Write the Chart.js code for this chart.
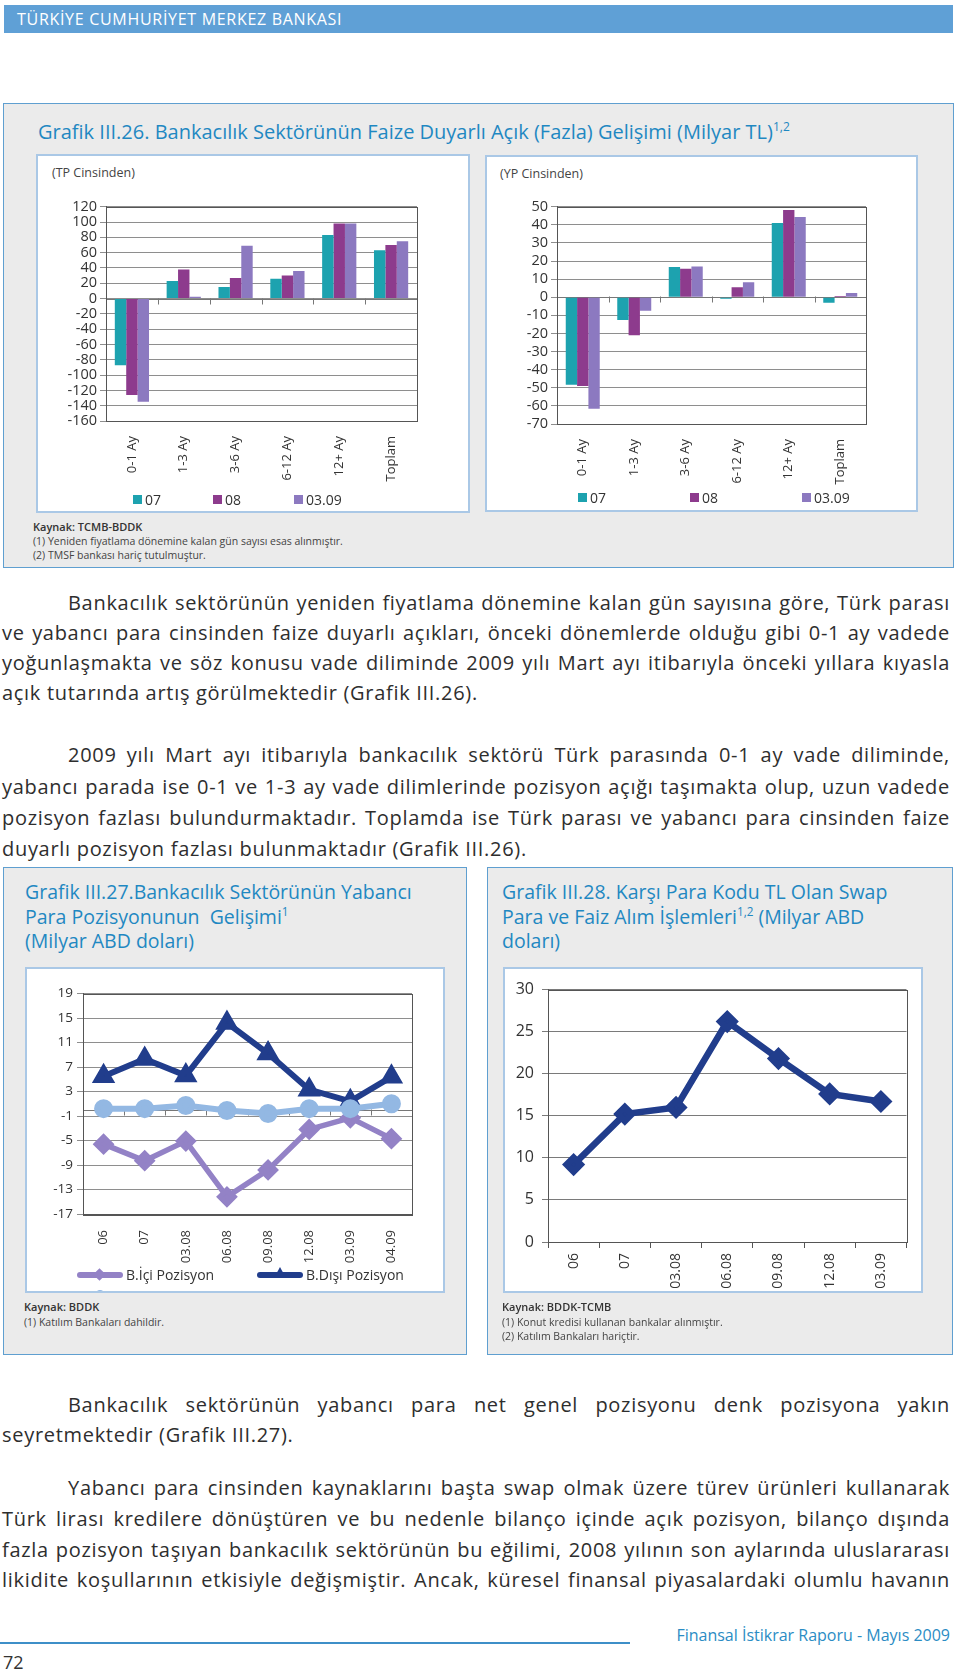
<!DOCTYPE html>
<html lang="tr">
<head>
<meta charset="utf-8">
<title>Finansal İstikrar Raporu - Grafik III.26-28</title>
<script src="https://cdn.jsdelivr.net/npm/chart.js@4.4.1/dist/chart.umd.min.js"></script>
<style>
  html, body { margin: 0; padding: 0; background: #fff; }
  body { width: 960px; height: 1670px; position: relative; overflow: hidden; font-family: "Open Sans", Lato, sans-serif; color: #2e2e2e; }
  .abs { position: absolute; }
  .topbar { left: 4px; top: 5px; width: 949px; height: 28px; background: #5fa0d6; }
  .topbar span { position: absolute; left: 13px; top: 3px; color: #fff; font-size: 16px; letter-spacing: 0.7px; }
  .grayBox { background: #ebebeb; border: 1.5px solid #5f9fd0; box-sizing: border-box; }
  .whiteBox { background: #fff; border: 2.5px solid #aac8e6; box-sizing: border-box; overflow: hidden; }
  .ctitle { color: #1f88c2; font-size: 19.5px; white-space: nowrap; }
  .ctitle sup { font-size: 0.6em; vertical-align: 0.7em; line-height: 0; }
  .sub { font-size: 12.5px; color: #444; }
  .note { font-size: 10.5px; color: #444; white-space: nowrap; line-height: 14px; }
  .note b { font-weight: 600; color: #333; font-size: 11px; }
  .line { position: absolute; left: 2px; width: 948px; font-size: 20px; letter-spacing: 0.7px; line-height: 30px; height: 30px; white-space: nowrap; color: #2e2e2e; }
  .just { text-align: justify; text-align-last: justify; white-space: normal; }
  .ind { text-indent: 66px; }
  canvas { position: absolute; }
  .leg { position: absolute; font-size: 14px; color: #333; white-space: nowrap; line-height: 16px; }
  .leg i { display: inline-block; width: 9px; height: 9px; margin-right: 3px; vertical-align: 1px; }
  .lline { position: absolute; height: 6px; border-radius: 3px; }
</style>
</head>
<body>

<div class="abs topbar"><span>TÜRKİYE CUMHURİYET MERKEZ BANKASI</span></div>

<!-- Grafik III.26 -->
<div class="abs grayBox" style="left:3px; top:103px; width:951px; height:465px;"></div>
<div class="abs ctitle" style="left:38px; top:118px; font-size:20px;">Grafik III.26. Bankacılık Sektörünün Faize Duyarlı Açık (Fazla) Gelişimi (Milyar TL)<sup>1,2</sup></div>
<div class="abs whiteBox" style="left:36px; top:154px; width:434px; height:359px;"></div>
<div class="abs whiteBox" style="left:485px; top:155px; width:433px; height:357px;"></div>
<div class="abs sub" style="left:52px; top:164px;">(TP Cinsinden)</div>
<div class="abs sub" style="left:500px; top:165px;">(YP Cinsinden)</div>
<canvas id="tpChart" width="390" height="310" style="left:40px; top:195px;"></canvas>
<canvas id="ypChart" width="420" height="310" style="left:490px; top:195px;"></canvas>
<div id="tpLegend"></div>
<div id="ypLegend"></div>
<div class="abs note" style="left:33px; top:520px;"><b>Kaynak: TCMB-BDDK</b></div>
<div class="abs note" style="left:33px; top:534px;">(1) Yeniden fiyatlama dönemine kalan gün sayısı esas alınmıştır.</div>
<div class="abs note" style="left:33px; top:548px;">(2) TMSF bankası hariç tutulmuştur.</div>

<!-- paragraf 1 -->
<div class="line just ind" style="top:588px;">Bankacılık sektörünün yeniden fiyatlama dönemine kalan gün sayısına göre, Türk parası</div>
<div class="line just" style="top:618px;">ve yabancı para cinsinden faize duyarlı açıkları, önceki dönemlerde olduğu gibi 0-1 ay vadede</div>
<div class="line just" style="top:648px;">yoğunlaşmakta ve söz konusu vade diliminde 2009 yılı Mart ayı itibarıyla önceki yıllara kıyasla</div>
<div class="line" style="top:678px;">açık tutarında artış görülmektedir (Grafik III.26).</div>

<!-- paragraf 2 -->
<div class="line just ind" style="top:740px;">2009 yılı Mart ayı itibarıyla bankacılık sektörü Türk parasında 0-1 ay vade diliminde,</div>
<div class="line just" style="top:772px;">yabancı parada ise 0-1 ve 1-3 ay vade dilimlerinde pozisyon açığı taşımakta olup, uzun vadede</div>
<div class="line just" style="top:803px;">pozisyon fazlası bulundurmaktadır. Toplamda ise Türk parası ve yabancı para cinsinden faize</div>
<div class="line" style="top:834px;">duyarlı pozisyon fazlası bulunmaktadır (Grafik III.26).</div>

<!-- Grafik III.27 -->
<div class="abs grayBox" style="left:3px; top:867px; width:464px; height:488px;"></div>
<div class="abs ctitle" style="left:25px; top:880px; line-height:24.5px;">Grafik III.27.Bankacılık Sektörünün Yabancı<br>Para Pozisyonunun&nbsp; Gelişimi<sup>1</sup><br>(Milyar ABD doları)</div>
<div class="abs whiteBox" style="left:25px; top:967px; width:420px; height:326px;">
  <div class="abs" style="left:68px; top:321px; width:10px; height:10px; border-radius:5px; background:#93b8e3;"></div>
</div>
<canvas id="fxChart" width="410" height="300" style="left:28px; top:980px;"></canvas>
<div id="fxLegend"></div>
<div class="abs note" style="left:24px; top:1300px;"><b>Kaynak: BDDK</b></div>
<div class="abs note" style="left:24px; top:1315px;">(1) Katılım Bankaları dahildir.</div>

<!-- Grafik III.28 -->
<div class="abs grayBox" style="left:487px; top:867px; width:466px; height:488px;"></div>
<div class="abs ctitle" style="left:502px; top:880px; line-height:24.5px;">Grafik III.28. Karşı Para Kodu TL Olan Swap<br>Para ve Faiz Alım İşlemleri<sup>1,2</sup> (Milyar ABD<br>doları)</div>
<div class="abs whiteBox" style="left:503px; top:967px; width:420px; height:326px;"></div>
<canvas id="swapChart" width="415" height="330" style="left:505px; top:972px;"></canvas>
<div class="abs note" style="left:502px; top:1300px;"><b>Kaynak: BDDK-TCMB</b></div>
<div class="abs note" style="left:502px; top:1315px;">(1) Konut kredisi kullanan bankalar alınmıştır.</div>
<div class="abs note" style="left:502px; top:1329px;">(2) Katılım Bankaları hariçtir.</div>

<!-- paragraf 3 -->
<div class="line just ind" style="top:1390px;">Bankacılık sektörünün yabancı para net genel pozisyonu denk pozisyona yakın</div>
<div class="line" style="top:1420px;">seyretmektedir (Grafik III.27).</div>

<!-- paragraf 4 -->
<div class="line just ind" style="top:1473px;">Yabancı para cinsinden kaynaklarını başta swap olmak üzere türev ürünleri kullanarak</div>
<div class="line just" style="top:1504px;">Türk lirası kredilere dönüştüren ve bu nedenle bilanço içinde açık pozisyon, bilanço dışında</div>
<div class="line just" style="top:1535px;">fazla pozisyon taşıyan bankacılık sektörünün bu eğilimi, 2008 yılının son aylarında uluslararası</div>
<div class="line just" style="top:1565px;">likidite koşullarının etkisiyle değişmiştir. Ancak, küresel finansal piyasalardaki olumlu havanın</div>

<!-- footer -->
<div class="abs" style="left:0; top:1642px; width:630px; height:2px; background:#3d8fc8;"></div>
<div class="abs" style="right:10px; top:1624px; color:#2b8cc4; font-size:16px; white-space:nowrap;">Finansal İstikrar Raporu - Mayıs 2009</div>
<div class="abs" style="left:3px; top:1650px; font-size:18px; color:#333;">72</div>

<script>
// Grafik III.26 - vade dilimleri
const tpCats = ['0-1 Ay', '1-3 Ay', '3-6 Ay', '6-12 Ay', '12+ Ay', 'Toplam'];
const periodNames = ['07', '08', '03.09'];
const tp07 = [-87, 23, 15, 26, 83, 63];
const tp08 = [-126, 38, 27, 30, 98, 70];
const tp0309 = [-135, 2.5, 69, 36, 98, 75];
const yp07 = [-48.3, -12.5, 16.7, -0.9, 41, -3.1];
const yp08 = [-49, -21, 15.8, 5.5, 48.2, 0.7];
const yp0309 = [-61.6, -7.4, 17, 8.3, 44.3, 2.4];

// Grafik III.27 - yabanci para pozisyonu
const fxDates = ['06', '07', '03.08', '06.08', '09.08', '12.08', '03.09', '04.09'];
const fxTicks = [19, 15, 11, 7, 3, -1, -5, -9, -13, -17];
const fxIci = [-5.6, -8.3, -5.1, -14.2, -9.8, -3.2, -1.3, -4.7];
const fxDisi = [5.5, 8.3, 5.6, 14.2, 9.2, 3.3, 1.4, 5.4];
const fxNet = [0.2, 0.2, 0.7, -0.1, -0.6, 0.2, 0.2, 1.0];

// Grafik III.28 - swap islemleri
const swapDates = ['06', '07', '03.08', '06.08', '09.08', '12.08', '03.09'];
const swapVals = [9.2, 15.2, 16.0, 26.2, 21.8, 17.6, 16.7];

const barColors = ['#1da2af', '#8d3b8d', '#8c79c0'];
const navy = '#213d8c';
const lilac = '#9382c6';
const skyBlue = '#93b8e3';

Chart.defaults.font.family = '"Open Sans", Lato, sans-serif';
Chart.defaults.color = '#333';
Chart.defaults.animation = false;

// cerceve ve sifir ekseni (Excel tarzi)
const framePlugin = {
  id: 'frame',
  beforeDatasetsDraw(chart, args, opts) {
    const { ctx, chartArea: a } = chart;
    const y = chart.scales.y;
    ctx.save();
    if (opts.zeroAxis) {
      const y0 = Math.round(y.getPixelForValue(0)) + 0.5;
      ctx.strokeStyle = '#777';
      ctx.lineWidth = 1;
      ctx.beginPath();
      ctx.moveTo(a.left, y0);
      ctx.lineTo(a.right, y0);
      const n = chart.data.labels.length;
      for (let i = 1; i < n; i++) {
        const x = Math.round(a.left + i * (a.right - a.left) / n) + 0.5;
        ctx.moveTo(x, y0 - 1);
        ctx.lineTo(x, y0 + 5);
      }
      ctx.stroke();
    }
    ctx.strokeStyle = '#555';
    ctx.lineWidth = 1;
    ctx.strokeRect(Math.round(a.left) + 0.5, Math.round(a.top) + 0.5, Math.round(a.right - a.left), Math.round(a.bottom - a.top));
    ctx.restore();
  }
};

function barChart(id, data, yMin, yMax, step, yWidth, xHeight, padTop, padRight) {
  return new Chart(document.getElementById(id), {
    type: 'bar',
    data: {
      labels: tpCats,
      datasets: data.map((d, i) => ({
        label: periodNames[i],
        data: d,
        backgroundColor: barColors[i],
        categoryPercentage: 0.66,
        barPercentage: 1.0
      }))
    },
    options: {
      responsive: false,
      devicePixelRatio: 1,
      layout: { padding: { top: padTop, right: padRight, left: 0, bottom: 0 } },
      plugins: { legend: { display: false }, tooltip: { enabled: false }, frame: { zeroAxis: true } },
      scales: {
        x: {
          grid: { display: false },
          border: { color: '#555' },
          ticks: { autoSkip: false, minRotation: 90, maxRotation: 90, padding: 7, font: { size: 13 } },
          afterFit(s) { s.height = xHeight; }
        },
        y: {
          min: yMin, max: yMax,
          grid: { color: '#8e8e8e', tickLength: 6 },
          border: { color: '#555' },
          ticks: { autoSkip: false, stepSize: step, padding: 3, font: { size: 14.5 } },
          afterFit(s) { s.width = yWidth; }
        }
      }
    },
    plugins: [framePlugin]
  });
}

barChart('tpChart', [tp07, tp08, tp0309], -160, 120, 20, 66, 84, 8, 13);
barChart('ypChart', [yp07, yp08, yp0309], -70, 50, 10, 67, 81, 11, 44);

function barLegend(id, xs, top) {
  const el = document.getElementById(id);
  periodNames.forEach((name, i) => {
    const d = document.createElement('div');
    d.className = 'leg';
    d.style.left = xs[i] + 'px';
    d.style.top = top + 'px';
    d.innerHTML = '<i style="background:' + barColors[i] + '"></i>' + name;
    el.appendChild(d);
  });
}
barLegend('tpLegend', [133, 213, 294], 492);
barLegend('ypLegend', [578, 690, 802], 490);

new Chart(document.getElementById('fxChart'), {
  type: 'line',
  data: {
    labels: fxDates,
    datasets: [
      { label: 'Net Genel Pozisyon', data: fxNet, borderColor: skyBlue, backgroundColor: skyBlue, borderWidth: 6, pointStyle: 'circle', pointRadius: 6.5, order: 1 },
      { label: 'B.İçi Pozisyon', data: fxIci, borderColor: lilac, backgroundColor: lilac, borderWidth: 5.5, pointStyle: 'rectRot', pointRadius: 7, order: 2 },
      { label: 'B.Dışı Pozisyon', data: fxDisi, borderColor: navy, backgroundColor: navy, borderWidth: 6, pointStyle: 'triangle', pointRadius: 7.5, order: 3 }
    ]
  },
  options: {
    responsive: false,
    devicePixelRatio: 1,
    layout: { padding: { top: 13, right: 26, left: 0, bottom: 0 } },
    plugins: { legend: { display: false }, tooltip: { enabled: false }, frame: { zeroAxis: true } },
    scales: {
      x: {
        offset: true,
        grid: { display: false },
        border: { color: '#555' },
        ticks: { autoSkip: false, minRotation: 90, maxRotation: 90, padding: 8, font: { size: 13 } },
        afterFit(s) { s.height = 66; }
      },
      y: {
        min: -17, max: 19,
        afterBuildTicks(s) { s.ticks = fxTicks.map(v => ({ value: v })); },
        grid: { color: '#8e8e8e', tickLength: 6 },
        border: { color: '#555' },
        ticks: { autoSkip: false, padding: 4, font: { size: 13.5 } },
        afterFit(s) { s.width = 55; }
      }
    }
  },
  plugins: [framePlugin]
});

// cizgi lejanti
const fxLeg = document.getElementById('fxLegend');
[
  { name: 'B.İçi Pozisyon', color: lilac, x: 77, text: 126, shape: 'diamond' },
  { name: 'B.Dışı Pozisyon', color: navy, x: 257, text: 306, shape: 'triangle' }
].forEach(item => {
  const l = document.createElement('div');
  l.className = 'lline';
  l.style.cssText = 'left:' + item.x + 'px; top:1272px; width:46px; background:' + item.color + ';';
  fxLeg.appendChild(l);
  const m = document.createElement('div');
  m.className = 'abs';
  if (item.shape === 'diamond') {
    m.style.cssText = 'left:' + (item.x + 18) + 'px; top:1270px; width:9px; height:9px; background:' + item.color + '; transform:rotate(45deg);';
  } else {
    m.style.cssText = 'left:' + (item.x + 17) + 'px; top:1267px; width:0; height:0; border-left:6px solid transparent; border-right:6px solid transparent; border-bottom:11px solid ' + item.color + ';';
  }
  fxLeg.appendChild(m);
  const t = document.createElement('div');
  t.className = 'leg';
  t.style.left = item.text + 'px';
  t.style.top = '1267px';
  t.textContent = item.name;
  fxLeg.appendChild(t);
});

new Chart(document.getElementById('swapChart'), {
  type: 'line',
  data: {
    labels: swapDates,
    datasets: [
      { label: 'Swap', data: swapVals, borderColor: navy, backgroundColor: navy, borderWidth: 6.5, pointStyle: 'rectRot', pointRadius: 7 }
    ]
  },
  options: {
    responsive: false,
    devicePixelRatio: 1,
    layout: { padding: { top: 12, right: 10, left: 0, bottom: 0 } },
    plugins: { legend: { display: false }, tooltip: { enabled: false }, frame: { zeroAxis: false } },
    scales: {
      x: {
        offset: true,
        grid: { display: true, drawOnChartArea: false, offset: true, tickLength: 6, color: '#555' },
        border: { color: '#555' },
        ticks: { autoSkip: false, minRotation: 90, maxRotation: 90, padding: 5, font: { size: 14 } },
        afterFit(s) { s.height = 60; }
      },
      y: {
        min: 0, max: 30,
        grid: { color: '#7a7a7a', tickLength: 6 },
        border: { color: '#555' },
        ticks: { autoSkip: false, stepSize: 5, padding: 8, font: { size: 16 } },
        afterFit(s) { s.width = 43; }
      }
    }
  },
  plugins: [framePlugin]
});
</script>
</body>
</html>
